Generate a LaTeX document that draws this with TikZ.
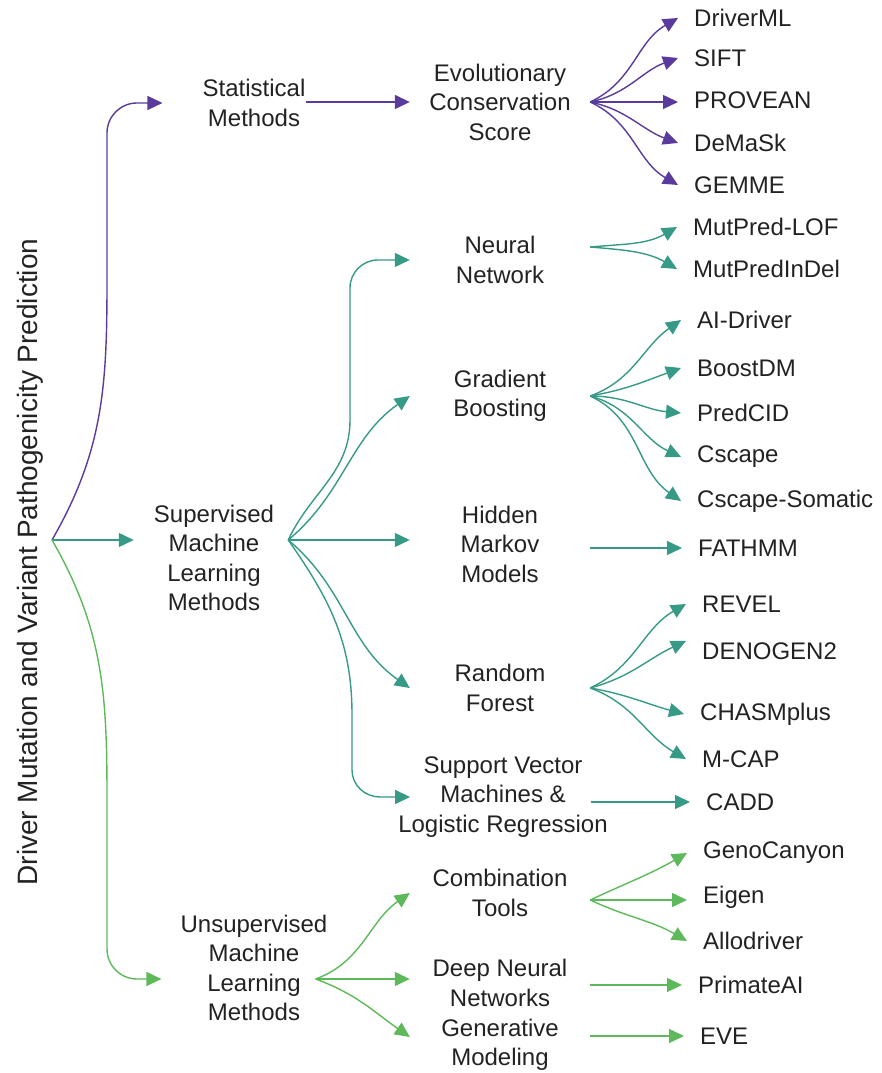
\documentclass[tikz,border=0pt]{standalone}
\usepackage{fontspec}
\setmainfont{Liberation Sans}
\usepackage{tikz}
\usetikzlibrary{arrows.meta,positioning}
\definecolor{stpurple}{HTML}{5A3A9C}
\definecolor{svteal}{HTML}{369A86}
\definecolor{usgreen}{HTML}{5EB95B}
\definecolor{ink}{HTML}{222222}

\begin{document}
\begin{tikzpicture}[
    x=1pt, y=1pt,
    txt/.style={align=center, inner sep=0pt, text=ink, font=\fontsize{24}{29.5}\selectfont},
    mid/.style={txt, minimum width=180pt},
    leaf/.style={txt, anchor=west, inner xsep=16pt},
    arr/.style={line width=1.4pt, -{Triangle[length=15pt,width=14pt]}},
    pa/.style={arr, draw=stpurple},
    ta/.style={arr, draw=svteal},
    ga/.style={arr, draw=usgreen}
]
\useasboundingbox (0,0) rectangle (882,1073);

\node[rotate=90, anchor=base, inner sep=0pt, text=ink, font=\fontsize{28}{34}\selectfont] (root) at (37,511) {Driver Mutation and Variant Pathogenicity Prediction};
\coordinate (rp) at (52,533);

\node[txt] (stat) at (254,970) {Statistical\\Methods};
\node[txt] (sup) at (214,515) {Supervised\\Machine\\Learning\\Methods};
\node[txt] (uns) at (254,105) {Unsupervised\\Machine\\Learning\\Methods};

\node[mid] (ecs) at (500,971) {Evolutionary\\Conservation\\Score};
\node[mid] (nn) at (500,813) {Neural\\Network};
\node[mid] (gb) at (500,677) {Gradient\\Boosting};
\node[mid] (hmm) at (500,529) {Hidden\\Markov\\Models};
\node[mid] (rf) at (500,385) {Random\\Forest};
\node[mid] (svm) at (503,276) {Support Vector\\Machines \&\\Logistic Regression};
\node[mid] (comb) at (500,180) {Combination\\Tools};
\node[mid] (dnn) at (500,90) {Deep Neural\\Networks};
\node[mid] (gen) at (500,28) {Generative\\Modeling};

\node[leaf] (dml) at (678,1055) {DriverML};
\node[leaf] (sift) at (678,1015) {SIFT};
\node[leaf] (prov) at (678,973) {PROVEAN};
\node[leaf] (dmsk) at (678,930) {DeMaSk};
\node[leaf] (gemme) at (678,888) {GEMME};
\node[leaf] (mlof) at (677,846) {MutPred-LOF};
\node[leaf] (mind) at (677,804) {MutPredInDel};
\node[leaf] (aid) at (681,753) {AI-Driver};
\node[leaf] (bdm) at (681,705) {BoostDM};
\node[leaf] (pcid) at (681,660) {PredCID};
\node[leaf] (csc) at (681,616) {Cscape};
\node[leaf] (cscs) at (681,572) {Cscape-Somatic};
\node[leaf] (fat) at (682,525) {FATHMM};
\node[leaf] (rev) at (686,469) {REVEL};
\node[leaf] (den) at (686,422) {DENOGEN2};
\node[leaf] (chasm) at (684,359) {CHASMplus};
\node[leaf] (mcap) at (686,314) {M-CAP};
\node[leaf] (cadd) at (690,271) {CADD};
\node[leaf] (geno) at (687,220) {GenoCanyon};
\node[leaf] (eig) at (687,176) {Eigen};
\node[leaf] (allo) at (687,132) {Allodriver};
\node[leaf] (pai) at (682,88) {PrimateAI};
\node[leaf] (eve) at (684,37) {EVE};

\coordinate (so) at ([xshift=14pt,yshift=18pt]sup.east);
\coordinate (uo) at ([xshift=-12pt,yshift=-11pt]uns.east);
\coordinate (no) at ([yshift=13pt]nn.east);
\coordinate (co) at ([yshift=-7pt]comb.east);

\draw[pa] (rp) to[out=60,in=-90] (107,793) -- (107,940) to[out=90,in=180] (137,970) -- ([xshift=-40pt]stat.west);
\draw[ta] (rp) -- ([xshift=-20pt,yshift=18pt]sup.west);
\draw[ga] (rp) to[out=-60,in=90] (107,273) -- (107,124) to[out=-90,in=180] (137,94) -- ([xshift=-19pt,yshift=-11pt]uns.west);

\draw[pa] (stat.east |- ecs.west) -- (ecs.west);
\draw[pa] (ecs.east) to[out=25,in=210] (dml.west); \draw[pa] (ecs.east) to[out=12,in=200] (sift.west);
\draw[pa] (ecs.east) -- (ecs.east -| prov.west);
\draw[pa] (ecs.east) to[out=-12,in=160] (dmsk.west); \draw[pa] (ecs.east) to[out=-25,in=150] (gemme.west);

\draw[ta] (so) to[out=65,in=-90] (350,653) -- (350,785) to[out=90,in=180] (378,813) -- (nn.west);
\draw[ta] (so) to[out=40,in=215] (gb.west);
\draw[ta] (so) -- (so -| hmm.west);
\draw[ta] (so) to[out=-40,in=145] (rf.west);
\draw[ta] (so) to[out=-55,in=90] (352,358) -- (352,303) to[out=-90,in=180] (380,276) -- ([xshift=12pt]svm.west);

\draw[ta] (no) to[out=5,in=210] (mlof.west); \draw[ta] (no) to[out=-5,in=150] (mind.west);
\draw[ta] (gb.east) to[out=20,in=215] (aid.west); \draw[ta] (gb.east) to[out=10,in=200] (bdm.west);
\draw[ta] (gb.east) to[out=0,in=175] (pcid.west);
\draw[ta] (gb.east) to[out=-15,in=155] (csc.west); \draw[ta] (gb.east) to[out=-25,in=145] (cscs.west);
\draw[ta] (hmm.east |- fat.west) -- (fat.west);
\draw[ta] (rf.east) to[out=25,in=210] (rev.west); \draw[ta] (rf.east) to[out=15,in=205] ([yshift=10pt]den.west);
\draw[ta] (rf.east) to[out=-10,in=165] (chasm.west); \draw[ta] (rf.east) to[out=-20,in=150] (mcap.west);
\draw[ta, shorten <=-17pt] (svm.east |- cadd.west) -- (cadd.west);

\draw[ga] (uo) to[out=20,in=215] (comb.west);
\draw[ga] (uo) -- (uo -| dnn.west);
\draw[ga] (uo) to[out=-20,in=145] ([yshift=8pt]gen.west);
\draw[ga] (co) to[out=25,in=210] (geno.west); \draw[ga] (co) -- (co -| eig.west);
\draw[ga] (co) to[out=-25,in=150] (allo.west);
\draw[ga] (dnn.east |- pai.west) -- (pai.west);
\draw[ga] (gen.east |- eve.west) -- (eve.west);
\end{tikzpicture}
\end{document}
